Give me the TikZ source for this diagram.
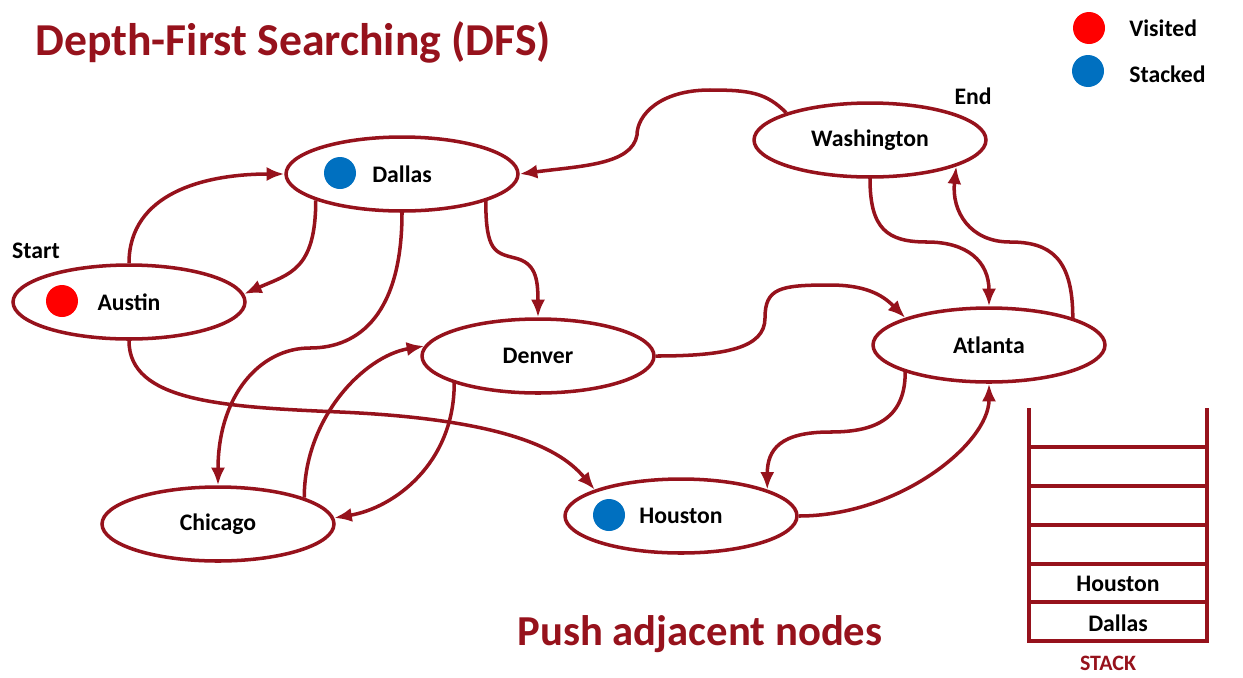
\documentclass[tikz,border=0pt]{standalone}
\usepackage{fontspec}
\setmainfont{Carlito}
\usetikzlibrary{shapes.geometric,arrows.meta}
\definecolor{dfsred}{RGB}{150,18,28}
\definecolor{dfsblue}{RGB}{0,112,192}
\definecolor{visitred}{RGB}{255,0,0}

\begin{document}
\begin{tikzpicture}[
    x=0.02cm, y=-0.02cm,
    >={Latex[length=10pt,width=8pt]},
    every node/.style={font=\fontsize{13.5}{16}\selectfont\bfseries},
    city/.style={
        ellipse, draw=dfsred, line width=2pt, fill=white,
        minimum width=4.64cm, minimum height=1.48cm, inner sep=0pt
    },
    dot/.style={circle, inner sep=0pt, minimum size=0.64cm},
    edge/.style={->, dfsred, line width=2pt},
    bigtext/.style={text=dfsred, inner sep=0pt, font=\fontsize{26}{30}\selectfont\bfseries}
]
\useasboundingbox (0,0) rectangle (1243,677);

\node[bigtext, anchor=west] (Title) at (35,42) {Depth-First Searching (DFS)};
\node[bigtext, font=\fontsize{24.3}{28}\selectfont\bfseries] (Caption) at (700,634) {Push adjacent nodes};

% legend
\node[dot, fill=visitred] (VisitedDot) at (1089,28) {};
\node[dot, fill=dfsblue] (StackedDot) at (1088,71) {};
\node[anchor=west, inner sep=0pt] (VisitedText) at (1129,28) {Visited};
\node[anchor=west, inner sep=0pt] (StackedText) at (1129,74) {Stacked};

% cities
\node[city] (Austin) at (129,302) {Austin};
\node[city] (Dallas) at (402,174) {Dallas};
\node[city] (Washington) at (870,140) {Washington};
\node[city] (Denver) at (538,356) {Denver};
\node[city] (Chicago) at (218,524) {Chicago};
\node[city] (Houston) at (681,516) {Houston};
\node[city] (Atlanta) at (989,345) {Atlanta};

\node[dot, fill=visitred] (AustinDot) at (62,301) {};
\node[dot, fill=dfsblue] (DallasDot) at (340,173) {};
\node[dot, fill=dfsblue] (HoustonDot) at (609,515) {};

\node (StartLabel) at (36,251) {Start};
\node (EndLabel) at (973,96) {End};

% edges
\draw[edge] (Austin.north) .. controls +(0,-70) and +(-80,0) .. (Dallas.west);
\draw[edge] (Dallas.197) .. controls +(0,70) and +(45,-20) .. (Austin.4);
\draw[edge] (Dallas.south) .. controls +(0,100) and +(50,0) .. (310,348)
    .. controls +(-50,0) and +(0,-90) .. (Chicago.north);
\draw[edge] (Dallas.342) .. controls +(0,50) and +(-20,-5) .. (515,258)
    .. controls +(20,5) and +(0,-40) .. (Denver.north);
\draw[edge] (Washington.162) .. controls +(-20,-20) and +(40,0) .. (710,90)
    .. controls +(-50,0) and +(0,-20) .. (637,135)
    .. controls +(-5,30) and +(60,-8) .. (Dallas.east);
\draw[edge] (Washington.south) .. controls +(0,50) and +(-40,0) .. (927,242)
    .. controls +(40,0) and +(0,-45) .. (Atlanta.north);
\draw[edge] (Atlanta.18) .. controls +(0,-60) and +(40,0) .. (1010,242)
    .. controls +(-40,0) and +(-5,45) .. (Washington.343);
\draw[edge] (Denver.east) .. controls +(70,0) and +(0,30) .. (765,318)
    .. controls +(0,-30) and +(-50,0) .. (830,285)
    .. controls +(40,0) and +(-20,-20) .. (Atlanta.162);
\draw[edge] (Austin.south) .. controls +(0,60) and +(-120,-5) .. (340,412)
    .. controls +(180,8) and +(-30,-35) .. (Houston.163);
\draw[edge] (Chicago.17) .. controls +(0,-80) and +(-60,10) .. (Denver.175);
\draw[edge] (Denver.198) .. controls +(0,80) and +(60,-10) .. (Chicago.3);
\draw[edge] (Atlanta.198) .. controls +(0,50) and +(40,0) .. (830,432)
    .. controls +(-50,0) and +(0,-40) .. (Houston.17);
\draw[edge] (Houston.east) .. controls +(100,0) and +(0,60) .. (Atlanta.south);

% stack
\draw[dfsred, line width=2pt] (1029,408) -- (1029,641) -- (1207,641) -- (1207,408);
\foreach \y in {447,486,525,564,602}
    \draw[dfsred, line width=2pt] (1029,\y) -- (1207,\y);
\node (StackTop) at (1118,584) {Houston};
\node (StackBottom) at (1118,623) {Dallas};
\node[text=dfsred, font=\fontsize{12.5}{15}\selectfont\bfseries] (StackLabel) at (1108,663) {STACK};

\end{tikzpicture}
\end{document}
